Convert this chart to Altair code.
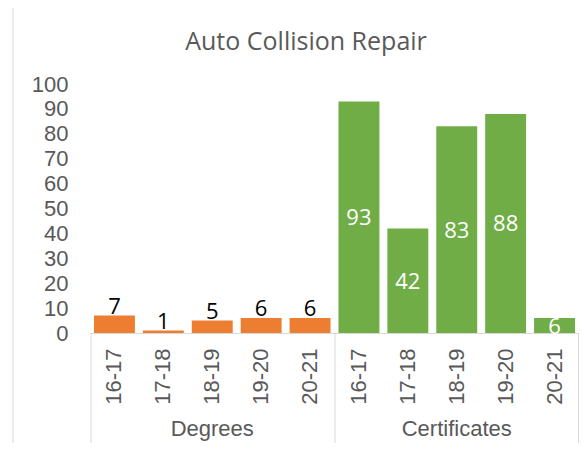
import altair as alt
import pandas as pd

# ---- data ----
groups = ["Degrees"] * 5 + ["Certificates"] * 5
years = ["16-17", "17-18", "18-19", "19-20", "20-21"] * 2
values = [7, 1, 5, 6, 6, 93, 42, 83, 88, 6]
group_names = ["Degrees", "Certificates"]
group_colors = ["#ED7D31", "#70AD47"]
title_text = "Auto Collision Repair"
y_ticks = list(range(0, 101, 10))

df = pd.DataFrame({"group": groups, "year": years, "value": values})
df["key"] = df["group"] + "|" + df["year"]
keys = list(df["key"])

# group label positions: centre category of each group
glabel_df = pd.DataFrame({"key": [keys[2], keys[7]], "label": group_names})
title_df = pd.DataFrame({"t": [title_text]})
one = pd.DataFrame({"a": [0]})

W, H = 489, 249
GRAY = "#595959"
LINE = "#D9D9D9"

xs = alt.Scale(domain=keys, paddingInner=0.163, paddingOuter=0.0815)
ys = alt.Scale(domain=[0, 100])

x_axis = alt.Axis(
    title=None,
    labelExpr="split(datum.value, '|')[1]",
    labelAngle=270,
    labelAlign="right",
    labelBaseline="middle",
    labelPadding=15,
    labelFont="Liberation Sans",
    labelFontSize=22,
    labelColor=GRAY,
    ticks=False,
    domainColor=LINE,
    domainWidth=1,
    labelOverlap=False,
    grid=False,
)
y_axis = alt.Axis(
    title=None,
    values=y_ticks,
    grid=False,
    ticks=False,
    domain=False,
    labelPadding=22,
    labelFont="Liberation Sans",
    labelFontSize=22,
    labelColor=GRAY,
    labelOverlap=False,
)

X = alt.X("key:N", scale=xs, sort=keys, axis=x_axis)

bars = alt.Chart(df).mark_bar().encode(
    x=X,
    y=alt.Y("value:Q", scale=ys, axis=y_axis),
    color=alt.Color("group:N", scale=alt.Scale(domain=group_names, range=group_colors), legend=None),
)

deg_labels = alt.Chart(df).transform_filter(alt.datum.group == "Degrees").mark_text(
    font="Open Sans", fontSize=22, color="black", baseline="alphabetic", dy=-2
).encode(x=X, y=alt.Y("value:Q", scale=ys, axis=y_axis), text="value:Q")

cert_labels = alt.Chart(df).transform_filter(alt.datum.group == "Certificates").transform_calculate(
    mid="datum.value / 2"
).mark_text(
    font="Open Sans", fontSize=22, color="white", baseline="middle", dy=1
).encode(x=X, y=alt.Y("mid:Q", scale=ys, axis=y_axis), text="value:Q")

group_labels = alt.Chart(glabel_df).mark_text(
    font="Liberation Sans", fontSize=22, color=GRAY, baseline="middle"
).encode(x=X, y=alt.value(345), text="label:N")

title = alt.Chart(title_df).mark_text(
    font="Open Sans", fontSize=25, color=GRAY, baseline="middle"
).encode(x=alt.value(216), y=alt.value(-42), text="t:N")

def vrule(px, y1, y2):
    return alt.Chart(one).mark_rule(color=LINE, strokeWidth=1).encode(
        x=alt.value(px), y=alt.value(y1), y2=alt.value(y2)
    )

seps = [vrule(1, H, 363), vrule(245, H, 363), vrule(488.5, H, 363)]
frame_left = vrule(-77, -79, 380)
frame_top = alt.Chart(one).mark_rule(color=LINE, strokeWidth=1.5).encode(
    x=alt.value(-77), x2=alt.value(510), y=alt.value(-79)
)

chart = alt.layer(
    frame_top, frame_left, *seps, bars, deg_labels, cert_labels, group_labels, title
).properties(
    width=W,
    height=H,
    autosize=alt.AutoSizeParams(type="none"),
    padding={"left": 82, "top": 76, "right": 0, "bottom": 110},
    background="white",
).configure_view(stroke=None)

chart.save("out.html", embed_options={"renderer": "svg", "actions": False})
